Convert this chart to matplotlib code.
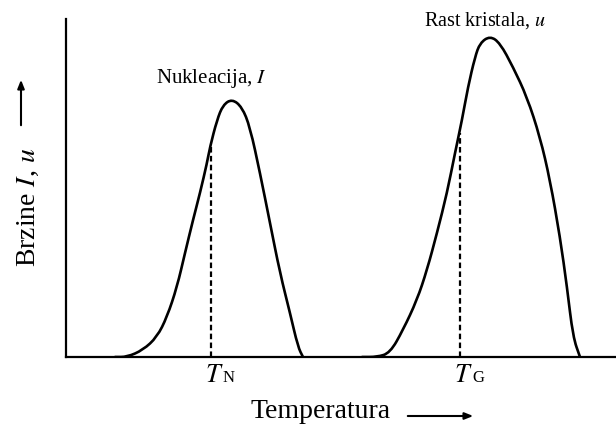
import numpy as np
import matplotlib
matplotlib.use("Agg")
import matplotlib.pyplot as plt
from matplotlib.path import Path
from matplotlib.patches import PathPatch, FancyArrowPatch

plt.rcParams['font.family'] = ['Liberation Serif', 'DejaVu Serif']
plt.rcParams['mathtext.fontset'] = 'stix'

# nucleation rate I(T), schematic units
temp_nuc = [115, 127, 143, 157, 167, 177, 185, 193, 200, 207, 210, 217, 223,
            232, 242, 250, 260, 270, 280, 290, 298, 303]
rate_nuc = [0, 0, 7, 20, 40, 70, 104, 137, 164, 194, 210, 237, 252,
            258, 250, 230, 184, 134, 84, 44, 10, 0]

# crystal growth rate u(T)
temp_gro = [362, 377, 390, 403, 417, 427, 437, 447, 455, 462, 468, 475, 480,
            490, 500, 513, 527, 540, 550, 560, 567, 573, 580]
rate_gro = [0, 0, 4, 27, 57, 87, 124, 164, 204, 237, 270, 300, 314,
            321, 314, 290, 260, 220, 177, 120, 70, 20, 0]

T_N = 211
T_G = 460

W, H = 616, 425


def smooth_path(xs, ys):
    # quadratic bezier through midpoints, the points act as control points
    pts = np.column_stack([xs, ys]).astype(float)
    verts = [pts[0], (pts[0] + pts[1]) / 2]
    codes = [Path.MOVETO, Path.LINETO]
    for i in range(1, len(pts) - 1):
        verts += [pts[i], (pts[i] + pts[i + 1]) / 2]
        codes += [Path.CURVE3, Path.CURVE3]
    verts.append(pts[-1])
    codes.append(Path.LINETO)
    return Path(verts, codes)


fig = plt.figure(figsize=(W / 100, H / 100), dpi=100)
ax = fig.add_axes([66 / W, (H - 357) / H, 1 - 66 / W, (357 - 19) / H])

for xs, ys in [(temp_nuc, rate_nuc), (temp_gro, rate_gro)]:
    ax.add_patch(PathPatch(smooth_path(xs, ys), fill=False, edgecolor='black',
                           lw=1.9, capstyle='round', joinstyle='round'))

# dashed markers up to the curve
for t, xs, ys in [(T_N, temp_nuc, rate_nuc), (T_G, temp_gro, rate_gro)]:
    top = np.interp(t, xs, ys) - 4
    ax.plot([t, t], [0, top], color='black', lw=1.6, ls=(0, (2.5, 1.5)))

ax.set_xlim(66, 616)
ax.set_ylim(0, 338)
for s in ['top', 'right']:
    ax.spines[s].set_visible(False)
for s in ['left', 'bottom']:
    ax.spines[s].set_linewidth(1.6)
ax.set_xticks([])
ax.set_yticks([])

# T_N / T_G labels, baseline ~25 px under the axis
for t, sub in [(T_N, 'N'), (T_G, 'G')]:
    ax.text(t - 6, -25, r'$T$', fontsize=19, ha='left', va='baseline')
    ax.text(t + 12, -25, sub, fontsize=12, ha='left', va='baseline')

ax.text(211, 279, 'Nukleacija, $I$', fontsize=15, ha='center', va='center')
ax.text(485, 336, 'Rast kristala, $u$', fontsize=14.5, ha='center', va='center')


def fx(px):
    return px / W


def fy(py):
    return 1 - py / H


fig.text(fx(321), fy(411), 'Temperatura', fontsize=20, ha='center', va='center')
fig.text(fx(28), fy(207), 'Brzine $I$, $u$', fontsize=20, ha='center',
         va='center', rotation=90)

fig.patches.append(FancyArrowPatch(
    (fx(405), fy(416)), (fx(476), fy(416)), transform=fig.transFigure,
    arrowstyle='-|>,head_length=5,head_width=2', color='black', lw=1.5))
fig.patches.append(FancyArrowPatch(
    (fx(21), fy(128)), (fx(21), fy(77)), transform=fig.transFigure,
    arrowstyle='-|>,head_length=5,head_width=2', color='black', lw=1.5))

fig.savefig('out.png', dpi=100)
